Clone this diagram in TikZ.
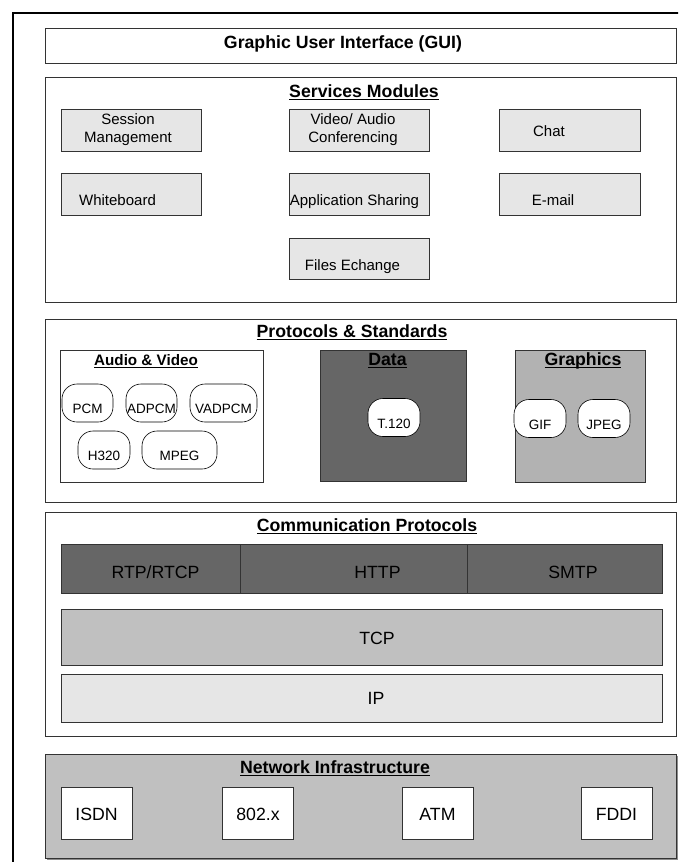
\documentclass[tikz,border=0pt]{standalone}
\usepackage{fontspec}
\setmainfont{Liberation Sans}
\usetikzlibrary{shadows}
\definecolor{lightfill}{HTML}{E6E6E6}
\definecolor{dkfill}{HTML}{666666}
\definecolor{midfill}{HTML}{B2B2B2}
\definecolor{tcpfill}{HTML}{C0C0C0}
\definecolor{edge}{HTML}{333333}
\newcommand{\ulttl}[1]{\setbox0\hbox{#1}\rlap{\rule[-3pt]{\wd0}{1.4pt}}\box0}

\begin{document}
\begin{tikzpicture}[x=1pt, y=-1pt,
    layer/.style={draw=edge, line width=0.9pt, inner sep=0pt, minimum width=631pt},
    mod/.style={draw=edge, line width=0.8pt, fill=lightfill, inner sep=0pt, minimum width=140pt, minimum height=42pt},
    group/.style={draw=edge, line width=0.8pt, inner sep=0pt, minimum height=132pt},
    pill/.style={draw, line width=0.6pt, fill=white, rounded corners=15pt, inner sep=0pt,
      minimum height=38pt, text height=21pt, text depth=0pt, font=\fontsize{13.5}{15}\selectfont},
    bar/.style={draw=edge, line width=0.8pt, inner sep=0pt},
    netbox/.style={draw=edge, line width=0.8pt, fill=white, inner sep=0pt, minimum width=71pt,
      minimum height=52pt, text height=15pt, text depth=0pt, font=\fontsize{17.7}{20}\selectfont},
    ttl/.style={anchor=base, inner sep=0pt, font=\fontsize{17.7}{20}\selectfont\bfseries},
    lbl/.style={anchor=base, inner sep=0pt, align=center, font=\fontsize{15}{18}\selectfont},
    big/.style={anchor=base, inner sep=0pt, font=\fontsize{17.7}{20}\selectfont}]

  \useasboundingbox (0,0) rectangle (678,862);
  \clip (0,0) rectangle (678,862);

  % Outer frame (runs off the right and bottom edge).
  \draw[line width=2.5pt] (13,880) -- (13,13) -- (700,13);

  % GUI layer.
  \node[layer, minimum height=35pt] (gui) at (360.5,45.5) {};
  \node[ttl] (gui-t) at (343,48) {Graphic User Interface (GUI)};

  % Services modules.
  \node[layer, minimum height=225pt] (svc) at (360.5,189.5) {};
  \node[ttl] (svc-t) at (364,97) {\ulttl{Services Modules}};
  \node[mod] (sess) at (131,130) {};
  \node[lbl, anchor=center] (sess-t) at (128,130) {Session\\Management};
  \node[mod] (conf) at (359,130) {};
  \node[lbl, anchor=center] (conf-t) at (353,130) {Video/ Audio\\Conferencing};
  \node[mod, minimum width=141pt] (chat) at (569.5,130) {};
  \node[lbl] (chat-t) at (549,136) {Chat};
  \node[mod] (wb) at (131,194) {};
  \node[lbl] (wb-t) at (117.5,205.5) {Whiteboard};
  \node[mod] (appsh) at (359,194) {};
  \node[lbl] (appsh-t) at (354.5,205.5) {Application Sharing};
  \node[mod, minimum width=141pt] (mail) at (569.5,194) {};
  \node[lbl] (mail-t) at (553,205.5) {E-mail};
  \node[mod, minimum height=41pt] (files) at (359,258.5) {};
  \node[lbl] (files-t) at (352.5,270) {Files Echange};

  % Protocols & standards.
  \node[layer, minimum height=183pt] (proto) at (360.5,410.5) {};
  \node[ttl] (proto-t) at (352,337) {\ulttl{Protocols \& Standards}};
  \node[group, fill=white, minimum width=203pt] (av) at (161.5,416) {};
  \node[ttl, font=\fontsize{15.2}{18}\selectfont\bfseries] (av-t) at (146,365) {\ulttl{Audio \& Video}};
  \node[group, fill=dkfill, minimum width=146pt, minimum height=131pt] (data) at (393,415.5) {};
  \node[ttl] (data-t) at (387.5,365) {\ulttl{Data}};
  \node[group, fill=midfill, minimum width=130pt] (gfx) at (580,416) {};
  \node[ttl] (gfx-t) at (583,365) {\ulttl{Graphics}};
  \foreach \n/\x/\y/\w/\t in {pcm/87.5/403/51/PCM, adpcm/151.5/403/51/ADPCM, vadpcm/223.5/403/67/VADPCM,
      h320/104/450/52/H320, mpeg/179.5/450/75/MPEG,
      t120/394/417.5/52/T.120, gif/540/418.5/52/GIF, jpeg/604/418.5/52/JPEG}
    \node[pill, minimum width=\w pt] (\n) at (\x,\y) {\t};

  % Communication protocols.
  \node[layer, minimum height=224pt] (comm) at (360.5,624) {};
  \node[ttl] (comm-t) at (367,531) {\ulttl{Communication Protocols}};
  \node[bar, fill=dkfill, minimum width=179pt, minimum height=49pt] (rtp) at (150.5,568.5) {};
  \node[bar, fill=dkfill, minimum width=227pt, minimum height=49pt] (http) at (353.5,568.5) {};
  \node[bar, fill=dkfill, minimum width=195pt, minimum height=49pt] (smtp) at (564.5,568.5) {};
  \node[big] (rtp-t) at (155.5,578) {RTP/RTCP};
  \node[big] (http-t) at (377.5,578) {HTTP};
  \node[big] (smtp-t) at (573,578) {SMTP};
  \node[bar, fill=tcpfill, minimum width=601pt, minimum height=56pt] (tcp) at (361.5,637) {};
  \node[big] (tcp-t) at (377,644) {TCP};
  \node[bar, fill=lightfill, minimum width=601pt, minimum height=48pt] (ip) at (361.5,698) {};
  \node[big] (ip-t) at (376,704) {IP};

  % Network infrastructure.
  \node[layer, fill=tcpfill, minimum height=104pt,
    drop shadow={shadow xshift=2pt, shadow yshift=-2pt, fill=black!45, opacity=1}] (net) at (360.5,806) {};
  \node[ttl] (net-t) at (335,773) {\ulttl{Network Infrastructure}};
  \foreach \i/\x/\t in {1/96.5/ISDN, 2/258/802.x, 3/437.5/ATM, 4/616.5/FDDI}
    \node[netbox] (nw\i) at (\x,813) {\t};
\end{tikzpicture}
\end{document}
